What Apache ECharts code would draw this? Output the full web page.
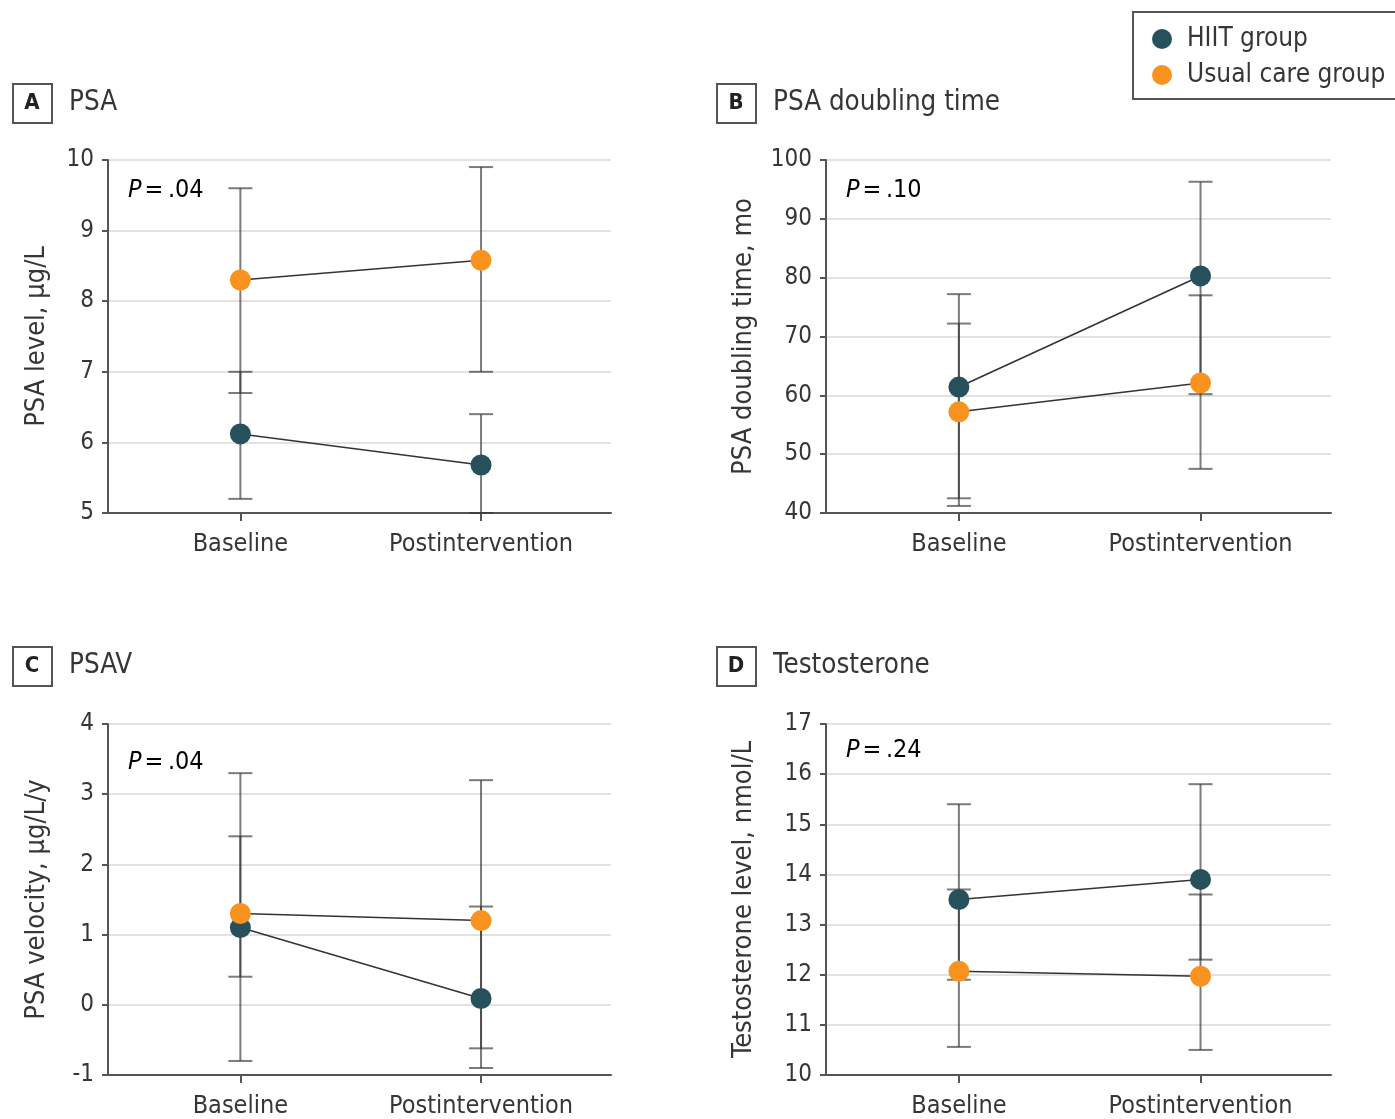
<!DOCTYPE html>
<html><head><meta charset="utf-8">
<script src="https://cdn.jsdelivr.net/npm/echarts@6/dist/echarts.min.js"></script>
<style>html,body{margin:0;padding:0;background:#fff}#c{width:1395px;height:1119px}</style>
</head><body><div id="c"></div>
<script>
var categories = ['Baseline', 'Postintervention'];
var groupNames = ['HIIT group', 'Usual care group'];

// Panel A: PSA level
var psaHiit = [6.12, 5.68];
var psaHiitLow = [5.2, 5.0];
var psaHiitHigh = [7.0, 6.4];
var psaUsual = [8.3, 8.58];
var psaUsualLow = [6.7, 7.0];
var psaUsualHigh = [9.6, 9.9];

// Panel B: PSA doubling time
var dtHiit = [61.4, 80.3];
var dtHiitLow = [41.2, 60.2];
var dtHiitHigh = [77.2, 96.3];
var dtUsual = [57.2, 62.1];
var dtUsualLow = [42.5, 47.5];
var dtUsualHigh = [72.2, 77.0];

// Panel C: PSA velocity
var velHiit = [1.1, 0.09];
var velHiitLow = [0.4, -0.62];
var velHiitHigh = [2.4, 1.4];
var velUsual = [1.3, 1.2];
var velUsualLow = [-0.8, -0.9];
var velUsualHigh = [3.3, 3.2];

// Panel D: Testosterone
var tHiit = [13.5, 13.9];
var tHiitLow = [11.9, 12.3];
var tHiitHigh = [15.4, 15.8];
var tUsual = [12.07, 11.97];
var tUsualLow = [10.56, 10.5];
var tUsualHigh = [13.7, 13.6];

var panelLetters = ['A', 'B', 'C', 'D'];
var panelTitles = ['PSA', 'PSA doubling time', 'PSAV', 'Testosterone'];
var yNames = ['PSA level, μg/L', 'PSA doubling time, mo', 'PSA velocity, μg/L/y', 'Testosterone level, nmol/L'];
var yMin = [5, 40, -1, 10];
var yMax = [10, 100, 4, 17];
var yStep = [1, 10, 1, 1];
var pValues = ['.04', '.10', '.04', '.24'];

var FONT = "'Liberation Sans Narrow', 'DejaVu Sans Condensed', 'Open Sans', sans-serif";
var TXT = '#363636';
var HIIT_COLOR = '#26505c';
var USUAL_COLOR = '#f7931e';
var AXIS = '#555';

var chart = echarts.init(document.getElementById('c'), null, {renderer: 'canvas'});

var grids = [
  {left: 108, top: 160, width: 503, height: 353},
  {left: 826, top: 160, width: 505, height: 353},
  {left: 108, top: 724, width: 503, height: 352},
  {left: 826, top: 724, width: 505, height: 352}
];
var nameGaps = [58, 69, 58, 69];

var xAxes = [], yAxes = [], series = [], graphics = [];
var panels = [
  [psaHiit, psaHiitLow, psaHiitHigh, psaUsual, psaUsualLow, psaUsualHigh],
  [dtHiit, dtHiitLow, dtHiitHigh, dtUsual, dtUsualLow, dtUsualHigh],
  [velHiit, velHiitLow, velHiitHigh, velUsual, velUsualLow, velUsualHigh],
  [tHiit, tHiitLow, tHiitHigh, tUsual, tUsualLow, tUsualHigh]
];

function errRender(params, api) {
  var x = api.value(0);
  var lo = api.coord([x, api.value(1)]);
  var hi = api.coord([x, api.value(2)]);
  var w = 12;
  var st = {stroke: 'rgba(55,55,55,0.66)', lineWidth: 2};
  return {type: 'group', children: [
    {type: 'line', shape: {x1: lo[0], y1: lo[1], x2: hi[0], y2: hi[1]}, style: st},
    {type: 'line', shape: {x1: lo[0] - w, y1: lo[1], x2: lo[0] + w, y2: lo[1]}, style: st},
    {type: 'line', shape: {x1: hi[0] - w, y1: hi[1], x2: hi[0] + w, y2: hi[1]}, style: st}
  ]};
}

panels.forEach(function (p, i) {
  xAxes.push({
    gridIndex: i, type: 'value', min: -0.55, max: 1.54,
    axisLine: {show: true, onZero: false, lineStyle: {color: AXIS, width: 2}},
    axisTick: {show: true, length: 8, customValues: [0, 1], lineStyle: {color: AXIS, width: 2}},
    axisLabel: {show: true, customValues: [0, 1], margin: 19, fontFamily: FONT, fontSize: 25, color: TXT,
      formatter: function (v) { return categories[Math.round(v)]; }},
    splitLine: {show: false}
  });
  yAxes.push({
    gridIndex: i, type: 'value', min: yMin[i], max: yMax[i], interval: yStep[i],
    name: yNames[i], nameLocation: 'middle', nameGap: nameGaps[i],
    nameTextStyle: {fontFamily: FONT, fontSize: 27, color: TXT},
    axisLine: {show: true, onZero: false, lineStyle: {color: AXIS, width: 2}},
    axisTick: {show: true, length: 6, lineStyle: {color: AXIS, width: 2}},
    axisLabel: {margin: 14, fontFamily: FONT, fontSize: 24, color: TXT},
    splitLine: {show: true, lineStyle: {color: '#e2e2e2', width: 2}}
  });
  var groups = [[p[0], p[1], p[2], HIIT_COLOR], [p[3], p[4], p[5], USUAL_COLOR]];
  groups.forEach(function (g, k) {
    series.push({
      type: 'custom', name: 'err' + i + k, xAxisIndex: i, yAxisIndex: i, z: 2,
      renderItem: errRender,
      encode: {x: 0, y: [1, 2]},
      data: [[0, g[1][0], g[2][0]], [1, g[1][1], g[2][1]]],
      silent: true
    });
  });
  groups.forEach(function (g, k) {
    series.push({
      type: 'line', name: groupNames[k], xAxisIndex: i, yAxisIndex: i, z: 5,
      data: [[0, g[0][0]], [1, g[0][1]]],
      symbol: 'circle', symbolSize: 21,
      lineStyle: {color: '#333', width: 1.6},
      itemStyle: {color: g[3], opacity: 1},
      emphasis: {disabled: true},
      animation: false
    });
  });
  var gx = grids[i].left;
  var boxX = (i % 2 === 0) ? 12 : 716;
  var boxY = (i < 2) ? 83 : 646;
  graphics.push({type: 'rect', left: boxX, top: boxY, shape: {width: 39, height: 39},
    style: {fill: '#fff', stroke: '#555', lineWidth: 2}});
  graphics.push({type: 'text', x: boxX + 20, y: boxY + 20,
    style: {text: panelLetters[i], font: 'bold 22px ' + FONT, fill: '#222', align: 'center', verticalAlign: 'middle'}});
  graphics.push({type: 'text', x: boxX + 57, y: boxY + 20,
    style: {text: panelTitles[i], font: '27.5px ' + FONT, fill: TXT, align: 'left', verticalAlign: 'middle'}});
  var pY = (i < 2) ? 190 : (i === 2 ? 762 : 750);
  graphics.push({type: 'text', x: gx + 20, y: pY,
    style: {text: '{i|P}{n|=\u2009' + pValues[i] + '}', verticalAlign: 'middle', align: 'left',
      rich: {i: {fontFamily: FONT, fontStyle: 'italic', fontSize: 25, color: TXT, padding: [0, 3, 0, 0]},
             n: {fontFamily: FONT, fontSize: 25, color: TXT}}}});
});

chart.setOption({
  animation: false,
  backgroundColor: '#fff',
  grid: grids,
  xAxis: xAxes,
  yAxis: yAxes,
  legend: {
    data: groupNames, orient: 'vertical', left: 1133, top: 12,
    padding: [14, 30, 11, 19], itemGap: 10, itemWidth: 20, itemHeight: 20,
    icon: 'circle', borderColor: '#555', borderWidth: 2,
    textStyle: {fontFamily: FONT, fontSize: 26, color: TXT, padding: [0, 0, 0, 10]},
    selectedMode: false
  },
  graphic: graphics,
  series: series
});
</script></body></html>
